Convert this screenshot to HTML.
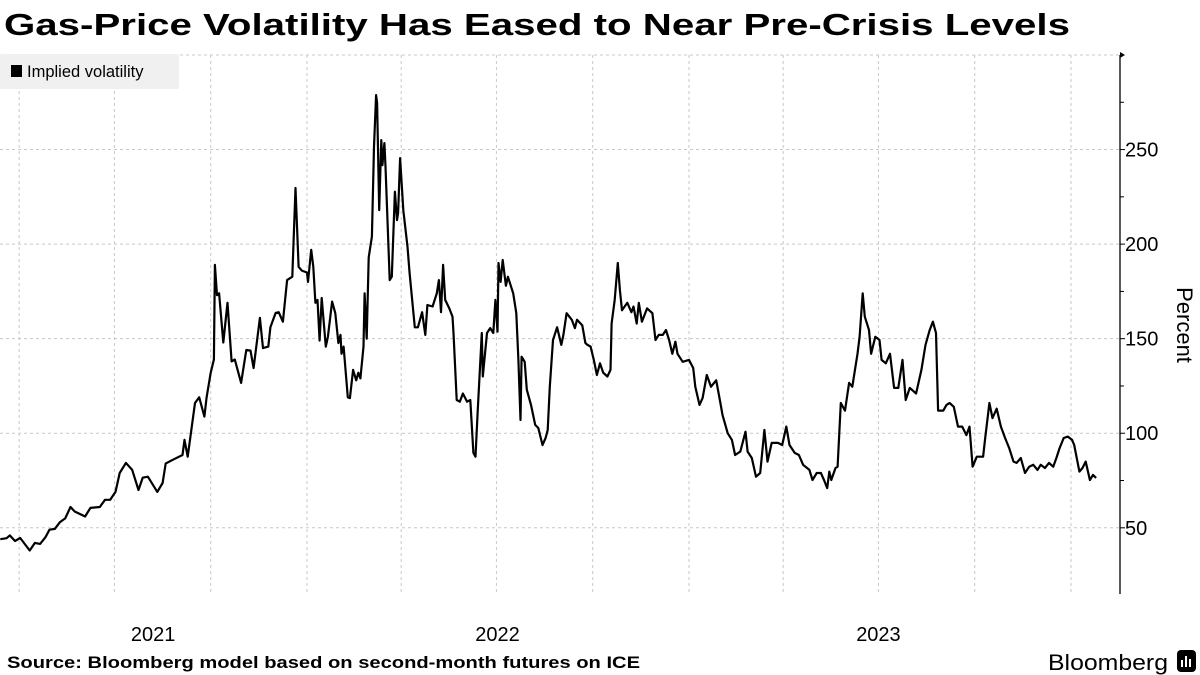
<!DOCTYPE html>
<html><head><meta charset="utf-8">
<style>
html,body{margin:0;padding:0;background:#fff;}
svg{display:block;font-family:"Liberation Sans",sans-serif;}
</style></head>
<body>
<svg id="chart" width="1200" height="675" viewBox="0 0 1200 675">
  <text x="4" y="35" font-size="31" font-weight="bold" fill="#000" textLength="1066" lengthAdjust="spacingAndGlyphs">Gas-Price Volatility Has Eased to Near Pre-Crisis Levels</text>
  <g id="grid"></g>
  <g id="yaxis"></g>
  <g id="xaxis"></g>
  <path id="series" fill="none" stroke="#000" stroke-width="2.2" stroke-linejoin="round"></path>
  <g>
    <rect x="0" y="54" width="179" height="35" fill="#f0f0f0" rx="2"></rect>
    <rect x="11" y="65" width="11" height="12" fill="#000"></rect>
    <text x="27" y="77" font-size="16.5" fill="#000">Implied volatility</text>
  </g>
  <text transform="translate(1177,325) rotate(90)" text-anchor="middle" font-size="22" fill="#000">Percent</text>
  <text x="7" y="668" font-size="16.5" font-weight="bold" fill="#000" textLength="633" lengthAdjust="spacingAndGlyphs">Source: Bloomberg model based on second-month futures on ICE</text>
  <g>
    <text x="1048" y="670" font-size="22" fill="#000" textLength="120" lengthAdjust="spacingAndGlyphs">Bloomberg</text>
    <rect x="1177" y="650" width="19" height="22" rx="4" fill="#000"></rect>
    <rect x="1181" y="660" width="2" height="7" fill="#fff"></rect>
    <rect x="1185" y="656" width="2" height="11" fill="#fff"></rect>
    <rect x="1189" y="659" width="2" height="8" fill="#fff"></rect>
  </g>
</svg>
<script>
// Days since 2022-01-01 for each observation
const dayOffsets = [-293,-287,-284,-279,-274,-265,-260,-255,-250,-246,-241,-236,-231,-226,-222,-212,-207,-198,-193,-188,-183,-179,-173,-167,-161,-157,-152,-143,-138,-135,-128,-119,-117,-114,-107,-103,-98,-96,-92,-89,-88,-86,-84,-80,-76,-72,-69,-63,-58,-54,-51,-45,-42,-37,-35,-30,-27,-23,-19,-14,-11,-8,-5,0,1,4,6,8,10,12,14,18,20,24,27,30,32,33,35,39,41,44,47,49,51,54,55,57,59,62,64,66,67,69,71,72,74,75,79,81,84,86,87,89,92,96,98,103,106,110,113,115,120,124,126,128,130,132,136,139,140,143,146,149,153,156,159,161,163,167,168,172,175,178,180,182,183,185,187,190,192,197,200,202,204,205,208,210,214,218,221,225,228,230,232,235,239,243,245,248,253,256,258,263,266,268,271,274,277,280,283,287,290,291,294,297,299,301,306,310,312,315,317,320,325,330,333,336,340,343,346,349,352,354,359,365,369,371,375,378,382,386,391,395,397,402,406,409,414,419,421,425,429,433,437,440,444,450,454,458,461,466,470,474,480,483,487,491,494,497,499,501,505,507,510,514,518,521,526,528,531,533,537,539,543,547,549,553,557,561,565,569,572,576,582,587,591,595,598,601,603,608,611,614,618,622,626,630,633,636,640,646,648,652,655,659,663,667,671,675,678,682,686,690,694,698,701,705,709,713,716,719,723,727,731,733,738,741,744,748,751,754];
const volatility = [44,44.5,46,43,44.6,38,42,41.5,45,49,49.4,53,55,61,58.6,56,60.5,61,64.8,64.8,69,79,84.3,80.6,70,76.5,77,69,73.7,84,86,88.5,96.5,87.6,116,119,108.8,118.6,132,139,189,173,174,148,169,138,139,126.6,144,143.7,134.5,161,145,145.8,156,163.6,164,159,181,182.8,229.7,188,186,185,180,197,188,169,170.5,149,171.5,145.8,151,169.6,163.5,147.7,152,142,145.8,119,118.6,133.5,128,132,129,145.8,174,150,193,204,251.5,278.8,274.6,218,255,241.8,253.4,241,181,182.8,227.7,212.7,216.4,245.5,218,198.6,184.7,156,156,164,152,167.8,167,174,181,164,189,170.5,166,161.6,153,117.6,116.7,121,116.7,117.6,89.6,87.6,110.7,153,130,153,155.6,153,170.5,153.7,190,180,191.6,178,182.8,174,163.5,138.8,107,140.5,137.8,123,115,104.4,102.8,93.8,97.5,101.7,124.6,149.3,156,146.7,152,163.5,160,155.6,160,157,147.7,146.7,145.8,138.8,130.8,137,132,130,133.5,158,170.5,190,175.7,165,169,164,167,158,169,159,166,163.5,149.3,152,152,154.6,149.3,142,148.4,142,137.8,138.8,134.5,124.6,115,118.6,130.8,124.6,128,116,109.7,100,96.5,88.5,90.3,100.8,90.3,86.9,77,79,101.7,85,94.9,94.9,93.8,103.5,93.8,89.6,88.5,83.3,80.6,75.3,79,79,75.3,71,79.7,75.3,81.6,82.3,116,112,126.6,124.6,142,151,174,161.6,154.6,142,151,149.3,138.8,137,142,124,124,138.8,117.6,124,121,133.5,146.7,154.6,159,153,112,112,115,116,114,103.5,103.5,99,103.5,82.3,87.6,87.6,97.5,116,108,113,103.5,97.5,92,85,84.3,86.9,79,82.3,83.3,80.6,83.3,81.6,84.3,82.3,86.9,92,97.5,98.2,96.5,93.8,79.7,81.6,85,75.3,78,76.4];
const yTicks = [50,100,150,200,250];
const yMinorTicks = [75,125,175,225,275];
const quarterDays = [-275,-184,-92,0,90,181,273,365,455,546,638,730];
const yearLabels = ["2021","2022","2023"];
const yearCenterDays = [-147,182,546];

const NS = "http://www.w3.org/2000/svg";
const plotRight = 1120, plotTop = 55, plotBottom = 594;
const yMin = 15, yMax = 300;
function xScale(d){ return 307 + d * 1.0466; }
function yScale(v){ return plotBottom - (v - yMin) * (plotBottom - plotTop) / (yMax - yMin); }
function mk(tag, attrs, parent){
  const e = document.createElementNS(NS, tag);
  for (const k in attrs) e.setAttribute(k, attrs[k]);
  parent.appendChild(e);
  return e;
}
const grid = document.getElementById('grid');
const yaxis = document.getElementById('yaxis');
const xaxis = document.getElementById('xaxis');

yTicks.concat([300]).forEach(v => {
  const y = yScale(v);
  const l = mk('line', {x1:0, x2:plotRight, y1:y, y2:y, stroke:'#c8c8c8', 'stroke-width':1, 'stroke-dasharray':'3,3'}, grid);
  
  
});
quarterDays.forEach(d => {
  const x = xScale(d);
  const l = mk('line', {x1:x, x2:x, y1:plotTop, y2:plotBottom, stroke:'#c8c8c8', 'stroke-width':1, 'stroke-dasharray':'3,3'}, grid);
  
  
});

const axl = mk('line', {x1:plotRight, x2:plotRight, y1:plotTop, y2:plotBottom, stroke:'#000', 'stroke-width':1.3}, yaxis);


const arrow = mk('path', {d:`M${plotRight},${plotTop-3} L${plotRight+5},${plotTop} L${plotRight},${plotTop+3} Z`, fill:'#000'}, yaxis);


yTicks.forEach(v => {
  const y = yScale(v);
  const t = mk('line', {x1:plotRight, x2:plotRight+5, y1:y, y2:y, stroke:'#000', 'stroke-width':1}, yaxis);
  
  
  const tx = mk('text', {x:plotRight+5, y:y+7, 'font-size':20, fill:'#000'}, yaxis);
  tx.textContent = String(v);
  
  
});
yMinorTicks.forEach(v => {
  const y = yScale(v);
  const t = mk('line', {x1:plotRight, x2:plotRight+4, y1:y, y2:y, stroke:'#000', 'stroke-width':1}, yaxis);
  
  
});
yearLabels.forEach((lab, i) => {
  const tx = mk('text', {x:xScale(yearCenterDays[i]), y:641, 'font-size':20, fill:'#000', 'text-anchor':'middle'}, xaxis);
  tx.textContent = lab;
  
  
});

let d = '';
dayOffsets.forEach((day, i) => {
  d += (i ? 'L' : 'M') + xScale(day).toFixed(1) + ',' + yScale(volatility[i]).toFixed(1);
});
document.getElementById('series').setAttribute('d', d);
</script>
</body></html>
